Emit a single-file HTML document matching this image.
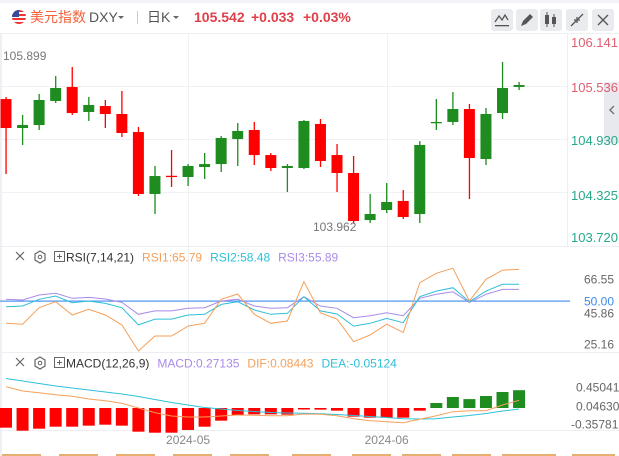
<!DOCTYPE html>
<html><head><meta charset="utf-8"><style>
body{margin:0;background:#fff;font-family:"Liberation Sans","Noto Sans CJK SC",sans-serif;}
#wrap{position:relative;width:619px;height:456px;overflow:hidden;}
svg text{font-family:"Liberation Sans","Noto Sans CJK SC",sans-serif;}
</style></head><body>
<div id="wrap">
<svg id="s" width="619" height="456" xmlns="http://www.w3.org/2000/svg">
<rect x="0" y="0" width="619" height="456" fill="#fff"/>
<rect x="0" y="0" width="619" height="3" fill="#f1f3f6"/>
<g>
 <g>
  <clipPath id="fc"><circle cx="19" cy="17" r="7"/></clipPath>
  <g clip-path="url(#fc)">
   <rect x="12" y="10" width="14" height="14" fill="#fff"/>
   <rect x="12" y="10" width="14" height="2" fill="#e33"/><rect x="12" y="14" width="14" height="2" fill="#e33"/>
   <rect x="12" y="18" width="14" height="2" fill="#e33"/><rect x="12" y="22" width="14" height="2" fill="#e33"/>
   <rect x="12" y="10" width="7" height="7" fill="#3a4a9a"/>
  </g>
 </g>
 <text x="30" y="22" font-size="14" fill="#f5613a">美元指数</text>
 <text x="89" y="22" font-size="14" fill="#555">DXY</text>
 <path d="M118 16 l3 3 l3 -3z" fill="#666"/>
 <rect x="137" y="11" width="1" height="13" fill="#ccc"/>
 <text x="147" y="22" font-size="14" fill="#555">日K</text>
 <path d="M173 16 l3 3 l3 -3z" fill="#666"/>
 <text x="194" y="22" font-size="14" font-weight="bold" fill="#e0404a">105.542</text>
 <text x="251" y="22" font-size="14" font-weight="bold" fill="#e0404a">+0.033</text>
 <text x="303" y="22" font-size="14" font-weight="bold" fill="#e0404a">+0.03%</text>
 <g><rect x="491" y="9" width="22" height="22" rx="3" fill="#e9ebef"/><path d="M495 22 l4 -6 l3 4 l3 -5 l3 5" stroke="#555" fill="none" stroke-width="1.3"/><rect x="495" y="25" width="14" height="1.3" fill="#555"/></g>
 <g><rect x="516" y="9" width="22" height="22" rx="3" fill="#e9ebef"/><path d="M521 26 l2 -5 l7 -7 l3 3 l-7 7z" fill="#555"/></g>
 <g><rect x="540" y="9" width="22" height="22" rx="3" fill="#e9ebef"/><rect x="545" y="15" width="4" height="9" fill="#555"/><rect x="552" y="17" width="4" height="7" fill="#555"/><rect x="546.5" y="12" width="1" height="15" fill="#555"/><rect x="553.5" y="14" width="1" height="13" fill="#555"/></g>
 <g><rect x="566" y="9" width="22" height="22" rx="3" fill="#e9ebef"/><path d="M571 26 l5 -5 M583 14 l-5 5 M574 20 h3 v3 M580 20 h-3 v-3" stroke="#555" stroke-width="1.3" fill="none"/></g>
 <g><rect x="592" y="9" width="22" height="22" rx="3" fill="#e9ebef"/><path d="M598 15 l10 10 M608 15 l-10 10" stroke="#555" stroke-width="1.3"/></g>
</g>
<rect x="0" y="33" width="619" height="1" fill="#eef0f3"/>
<rect x="0" y="33" width="2" height="423" fill="#eef0f5"/>
<g><rect x="604" y="82" width="15" height="61" fill="#e8e9ee"/><path d="M614 106 l-4 4 l4 4" stroke="#777" stroke-width="1.5" fill="none"/></g>
<g id="grid"></g>
<g id="main"></g>
<g id="rsi"></g>
<g id="macd"></g>
</svg>
</div>
<script>
const opens=[105.387,105.056,105.090,105.365,105.525,105.239,105.307,105.216,105.010,104.302,104.510,104.496,104.610,104.644,104.930,105.033,104.747,104.599,104.599,105.102,104.747,104.542,104.004,104.119,104.222,104.073,105.120,105.125,105.273,104.702,105.227,105.525];
const closes=[105.056,105.090,105.376,105.513,105.227,105.319,105.216,104.999,104.302,104.507,104.500,104.622,104.644,104.942,105.022,104.747,104.599,104.622,105.136,104.679,104.542,103.993,104.073,104.210,104.039,104.862,105.125,105.273,104.713,105.216,105.513,105.547];
const highs=[105.410,105.205,105.445,105.650,105.753,105.410,105.376,105.479,105.067,104.622,104.805,104.644,104.770,104.965,105.113,105.125,104.770,104.644,105.147,105.159,104.873,104.736,104.302,104.427,104.347,104.907,105.387,105.467,105.330,105.285,105.810,105.582];
const lows=[104.530,104.862,105.033,105.342,105.205,105.136,105.056,104.953,104.279,104.073,104.382,104.393,104.473,104.553,104.622,104.633,104.564,104.324,104.587,104.610,104.324,103.962,103.970,104.084,104.016,103.970,105.033,105.090,104.244,104.633,105.159,105.490];
const priceTicks=["106.141","105.536","104.930","104.325","103.720"];
const rsi1=[34.1,33.4,45.2,49.5,40.0,44.1,40.0,32.9,14.3,25.0,25.0,32.1,34.1,51.2,55.0,40.5,34.1,35.7,63.8,41.6,37.1,20.9,25.7,33.4,27.6,63.1,69.8,73.4,50.0,65.5,72.1,72.6];
const rsi2=[45.9,46.4,51.2,53.6,48.8,50.0,48.3,45.2,32.9,37.1,37.1,40.0,40.5,47.6,49.5,43.6,40.5,41.2,53.1,42.9,40.7,32.1,34.1,37.6,34.5,53.1,57.1,59.5,49.5,57.1,61.9,61.9];
const rsi3=[51.2,50.7,54.3,55.5,51.9,52.6,51.4,49.0,40.5,42.9,42.9,44.8,45.2,50.0,51.2,46.4,44.8,45.2,53.1,46.4,44.8,38.1,39.5,41.6,39.5,51.9,54.8,56.6,49.0,54.8,58.3,58.3];
const rsiTicks=["66.55","50.00","45.86","25.16"];
const macdHist=[-0.442,-0.51,-0.465,-0.42,-0.42,-0.397,-0.375,-0.397,-0.532,-0.555,-0.555,-0.494,-0.42,-0.285,-0.157,-0.142,-0.142,-0.15,-0.015,-0.037,-0.06,-0.195,-0.217,-0.217,-0.217,-0.06,0.112,0.247,0.2,0.27,0.36,0.40];
const dif=[0.479,0.382,0.344,0.299,0.263,0.202,0.164,0.106,0,-0.106,-0.18,-0.202,-0.202,-0.18,-0.157,-0.164,-0.173,-0.173,-0.135,-0.142,-0.173,-0.24,-0.285,-0.308,-0.33,-0.254,-0.173,-0.083,-0.06,-0.06,0.067,0.173];
const dea=[0.663,0.607,0.551,0.494,0.449,0.404,0.36,0.315,0.258,0.191,0.124,0.067,0.011,-0.022,-0.056,-0.079,-0.101,-0.112,-0.119,-0.128,-0.146,-0.169,-0.191,-0.213,-0.24,-0.247,-0.24,-0.202,-0.169,-0.124,-0.067,-0.022];
const macdTicks=["0.45041","0.04630","-0.35781"];
const dateLabels=["2024-05","2024-06"];
const dateIdx=[11,23];

const NS="http://www.w3.org/2000/svg";
function mk(p,t,a){const e=document.createElementNS(NS,t);for(const k in a)e.setAttribute(k,a[k]);p.appendChild(e);return e;}
const xAt=i=>6+i*16.55;
const yP=p=>86+(105.536-p)*87.5;
const yR=v=>301-(v-50)*1.4;
const yM=v=>408-v*44.5;
const grid=document.getElementById('grid');
[86,139,192].forEach(y=>{const l=mk(grid,'rect',{x:0,y:y,width:567,height:1,fill:'#f0f1f4'});

});
[188,387].forEach(x=>{const l=mk(grid,'rect',{x:x,y:34,width:1,height:396,fill:'#f0f1f4'});

});
[246,352,430].forEach(y=>{const l=mk(grid,'rect',{x:0,y:y,width:619,height:1,fill:'#eceef2'});

});
mk(grid,'rect',{x:567,y:34,width:1,height:212,fill:'#eceef2'});
const main=document.getElementById('main');
const tickY=[42,87,140,195,237];
priceTicks.forEach((t,i)=>{const e=mk(main,'text',{x:571,y:tickY[i]+5,'font-size':13,fill:i<2?'#e06070':'#26a88a'});e.textContent=t;

});
for(let i=0;i<opens.length;i++){
 const up=closes[i]>=opens[i];const c=up?'#1e8c1e':'#ff0000';const x=xAt(i);
 const g=mk(main,'g',{});
 
 
 mk(g,'rect',{x:x-0.6,y:yP(highs[i]),width:1.3,height:Math.max(1,yP(lows[i])-yP(highs[i])),fill:c});
 const t=yP(Math.max(opens[i],closes[i])),b=yP(Math.min(opens[i],closes[i]));
 mk(g,'rect',{x:x-5.5,y:t,width:11,height:Math.max(1.3,b-t),fill:c});
}
let e=mk(main,'text',{x:3,y:60,'font-size':12,fill:'#777'});e.textContent='105.899';


e=mk(main,'text',{x:313,y:231,'font-size':12,fill:'#777'});e.textContent='103.962';


function paneHead(g,y,items){
 mk(g,'path',{d:`M16 ${y-5} l8 8 M24 ${y-5} l-8 8`,stroke:'#666','stroke-width':1.2});
 mk(g,'path',{d:`M40 ${y-6} l5 3 v6 l-5 3 l-5 -3 v-6z`,stroke:'#666','stroke-width':1.2,fill:'none'});
 mk(g,'circle',{cx:40,cy:y,r:1.8,stroke:'#666','stroke-width':1,fill:'none'});
 mk(g,'rect',{x:54.5,y:y-5.5,width:10,height:10,stroke:'#666','stroke-width':1,fill:'none'});
 mk(g,'path',{d:`M57 ${y-0.5} h5 M59.5 ${y-3} v5`,stroke:'#666','stroke-width':1});
 let x=66;
 items.forEach(([t,c])=>{const e=mk(g,'text',{x:x,y:y+4.5,'font-size':12,fill:c});e.textContent=t;
 
 
 x+=e.getComputedTextLength()+8;});
}
const rsi=document.getElementById('rsi');
paneHead(rsi,257,[['RSI(7,14,21)','#333'],['RSI1:65.79','#f5a05a'],['RSI2:58.48','#2ec0d8'],['RSI3:55.89','#a98be8']]);
mk(rsi,'rect',{x:0,y:yR(50)-0.5,width:570,height:1.2,fill:'#4d93f0'});
const rTy=[279,301,313,344];
rsiTicks.forEach((t,i)=>{const e=mk(rsi,'text',{x:584,y:rTy[i]+4.5,'font-size':12,fill:i==1?'#3d8bf0':'#666'});e.textContent=t;

});
function line(g,arr,yf,c,name){const d=arr.map((v,i)=>(i?'L':'M')+xAt(i).toFixed(1)+' '+yf(v).toFixed(1)).join(' ');
 const p=mk(g,'path',{d:d,stroke:c,'stroke-width':1,fill:'none'});
 
 }
line(rsi,rsi3,yR,'#a98be8','rsi3-line');
line(rsi,rsi2,yR,'#2ec0d8','rsi2-line');
line(rsi,rsi1,yR,'#f5a05a','rsi1-line');
const macd=document.getElementById('macd');
paneHead(macd,363,[['MACD(12,26,9)','#333'],['MACD:0.27135','#a98be8'],['DIF:0.08443','#f5a05a'],['DEA:-0.05124','#2ec0d8']]);
macdHist.forEach((v,i)=>{const y0=yM(0),y1=yM(v);const r=mk(macd,'rect',{x:xAt(i)-6,y:Math.min(y0,y1),width:12,height:Math.max(1.5,Math.abs(y1-y0)),fill:v>=0?'#1e8c1e':'#ff0000'});

});
line(macd,dea,yM,'#2ec0d8','dea-line');
line(macd,dif,yM,'#f5a05a','dif-line');
const mTy=[387,406,424];
macdTicks.forEach((t,i)=>{const e=mk(macd,'text',{x:i==2?571:576,y:mTy[i]+4.5,'font-size':12,fill:'#666'});e.textContent=t;

});
dateLabels.forEach((t,i)=>{const e=mk(macd,'text',{x:xAt(dateIdx[i]),y:444,'font-size':12,fill:'#888','text-anchor':'middle'});e.textContent=t;

});
[[0,45],[57,45],[114,45],[171,45],[228,45],[290,45],[350,45],[400,45],[450,45],[500,60],[570,49]].forEach(([x,w])=>mk(macd,'rect',{x:x+2,y:454,width:w-6,height:2,fill:'#e8b070'}));
</script>
</body></html>
